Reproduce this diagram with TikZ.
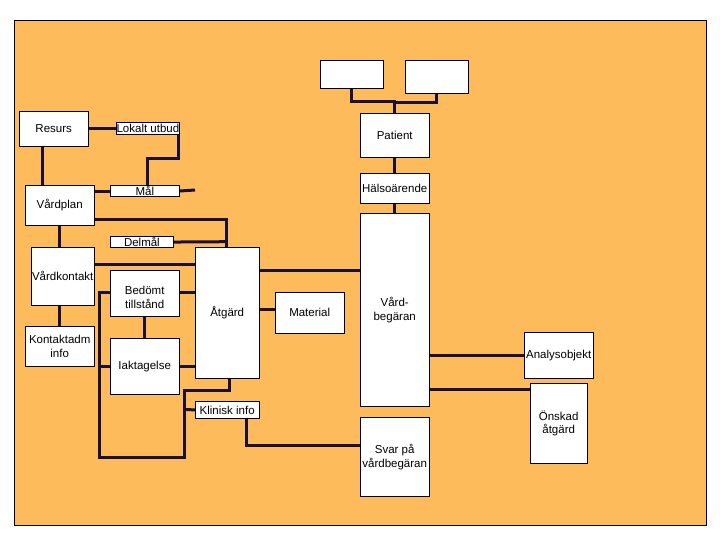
\documentclass[tikz,border=0pt]{standalone}
\usepackage{fontspec}
\setmainfont{Liberation Sans}
\definecolor{bgorange}{RGB}{253,187,92}
\definecolor{linknavy}{RGB}{25,15,55}
\begin{document}
\begin{tikzpicture}[x=1pt,y=-1pt,
    box/.style={draw,fill=white,line width=0.8pt,inner sep=0pt,anchor=north west},
    txt/.style={font=\fontsize{11.5}{13.5}\selectfont,align=center,inner sep=0pt},
    link/.style={linknavy,line width=3pt}]
  \useasboundingbox (0,0) rectangle (720,540);
  \draw[fill=bgorange,line width=0.8pt] (14,20) rectangle (706,525);

  % links first, boxes on top
  \coordinate (lokbend) at (147.7,159);
  \coordinate (malend) at (195,190);
  \coordinate (loopa) at (99.3,457.3);
  \coordinate (loopb) at (184.3,390);
  \coordinate (topjoin) at (394.7,101.7);

  \node[box,minimum width=68,minimum height=34] (res) at (19.3,111.3) {};
  \node[box,minimum width=61.6,minimum height=10.6] (lok) at (116.7,122.7) {};
  \node[box,minimum width=68,minimum height=39] (vpl) at (25.3,185.3) {};
  \node[box,minimum width=67.6,minimum height=10.7] (mal) at (110.7,185.3) {};
  \node[box,minimum width=61.6,minimum height=10.7] (del) at (110.7,236.3) {};
  \node[box,minimum width=62,minimum height=57] (vko) at (31.3,247.3) {};
  \node[box,minimum width=68,minimum height=39.7] (kad) at (25.3,326.3) {};
  \node[box,minimum width=68,minimum height=44.6] (bed) at (110.3,270.7) {};
  \node[box,minimum width=68,minimum height=55.7] (iak) at (110.3,338.3) {};
  \node[box,minimum width=63,minimum height=130] (atg) at (195.3,247.3) {};
  \node[box,minimum width=63,minimum height=15.6] (kli) at (195.3,401.7) {};
  \node[box,minimum width=68,minimum height=40] (mat) at (275.3,292.3) {};
  \node[box,minimum width=61.6,minimum height=26.6] (blank1) at (320.7,60.7) {};
  \node[box,minimum width=62,minimum height=31.6] (blank2) at (405.3,60.7) {};
  \node[box,minimum width=68,minimum height=43] (pat) at (360.3,113.3) {};
  \node[box,minimum width=68,minimum height=28.6] (hals) at (360.3,173.7) {};
  \node[box,minimum width=68,minimum height=192.7] (vbeg) at (360.3,213.3) {};
  \node[box,minimum width=68,minimum height=78.7] (svar) at (360.3,417.3) {};
  \node[box,minimum width=68,minimum height=45] (ana) at (524.3,332.3) {};
  \node[box,minimum width=56,minimum height=79] (onsk) at (530.3,383.3) {};

  \begin{scope}[on background layer/.style={}]
  \end{scope}

  \draw[link] (res.east) ++(0,0) -- (lok.west |- res.east);
  \draw[link] (lok.south) ++(30.3,0) |- (lokbend) -- (lokbend |- vpl.north);
  \draw[link] (42.7,145.3) -- (42.7,185.3);
  \draw[link] (vpl.east |- mal.east) -- (mal.west);
  \draw[link] (mal.east) -- (malend);
  \draw[link] (93.3,219.3) -| (226.7,247.3);
  \draw[link] (del.east) -- (226.7,241.7);
  \draw[link] (59.3,224.3) -- (59.3,247.3);
  \draw[link] (vko.east |- 0,264) -- (atg.west |- 0,264);
  \draw[link] (59.3,304.3) -- (59.3,326.3);
  \draw[link] (bed.east |- 0,292.3) -- (atg.west |- 0,292.3);
  \draw[link] (144.3,315.3) -- (144.3,338.3);
  \draw[link] (iak.east |- 0,366.7) -- (atg.west |- 0,366.7);
  \draw[link] (bed.west |- 0,292.3) -| (loopa) -| (loopb) -| (229.7,377.3);
  \draw[link] (iak.west |- 0,366.7) -- (99.3,366.7);
  \draw[link] (kli.west) -- (184.3,409.5);
  \draw[link] (atg.east |- 0,270.7) -- (vbeg.west |- 0,270.7);
  \draw[link] (atg.east |- 0,309.3) -- (mat.west |- 0,309.3);
  \draw[link] (246.3,417.3) |- (svar.west |- 0,445.7);
  \draw[link] (351.7,87.3) |- (topjoin) -- (pat.north);
  \draw[link] (436.3,92.3) |- (394.7,102.7);
  \draw[link] (pat.south) -- (hals.north);
  \draw[link] (hals.south) -- (vbeg.north);
  \draw[link] (vbeg.east |- 0,355) -- (ana.west |- 0,355);
  \draw[link] (vbeg.east |- 0,389.3) -- (onsk.west |- 0,389.3);

  % redraw boxes over the links
  \foreach \b in {res,lok,vpl,mal,del,vko,kad,bed,iak,atg,kli,mat,blank1,blank2,pat,hals,vbeg,svar,ana,onsk}
    \draw[fill=white,line width=0.8pt] (\b.north west) rectangle (\b.south east);

  \node[txt] (res-t) at (res.center) {Resurs};
  \node[txt] (lok-t) at (lok.center) {Lokalt utbud};
  \node[txt] (vpl-t) at (vpl.center) {Vårdplan};
  \node[txt] (mal-t) at (mal.center) {Mål};
  \node[txt] (del-t) at (del.center) {Delmål};
  \node[txt] (vko-t) at (vko.center) {Vårdkontakt};
  \node[txt] (kad-t) at (kad.center) {Kontaktadm\\info};
  \node[txt] (bed-t) at ([yshift=-4]bed.center) {Bedömt\\tillstånd};
  \node[txt] (iak-t) at (iak.center) {Iaktagelse};
  \node[txt] (atg-t) at (atg.center) {Åtgärd};
  \node[txt] (kli-t) at (kli.center) {Klinisk info};
  \node[txt] (mat-t) at (mat.center) {Material};
  \node[txt] (pat-t) at (pat.center) {Patient};
  \node[txt] (hals-t) at (hals.center) {Hälsoärende};
  \node[txt] (vbeg-t) at (vbeg.center) {Vård-\\begäran};
  \node[txt] (svar-t) at (svar.center) {Svar på\\vårdbegäran};
  \node[txt] (ana-t) at (ana.center) {Analysobjekt};
  \node[txt] (onsk-t) at (onsk.center) {Önskad\\åtgärd};
\end{tikzpicture}
\end{document}
